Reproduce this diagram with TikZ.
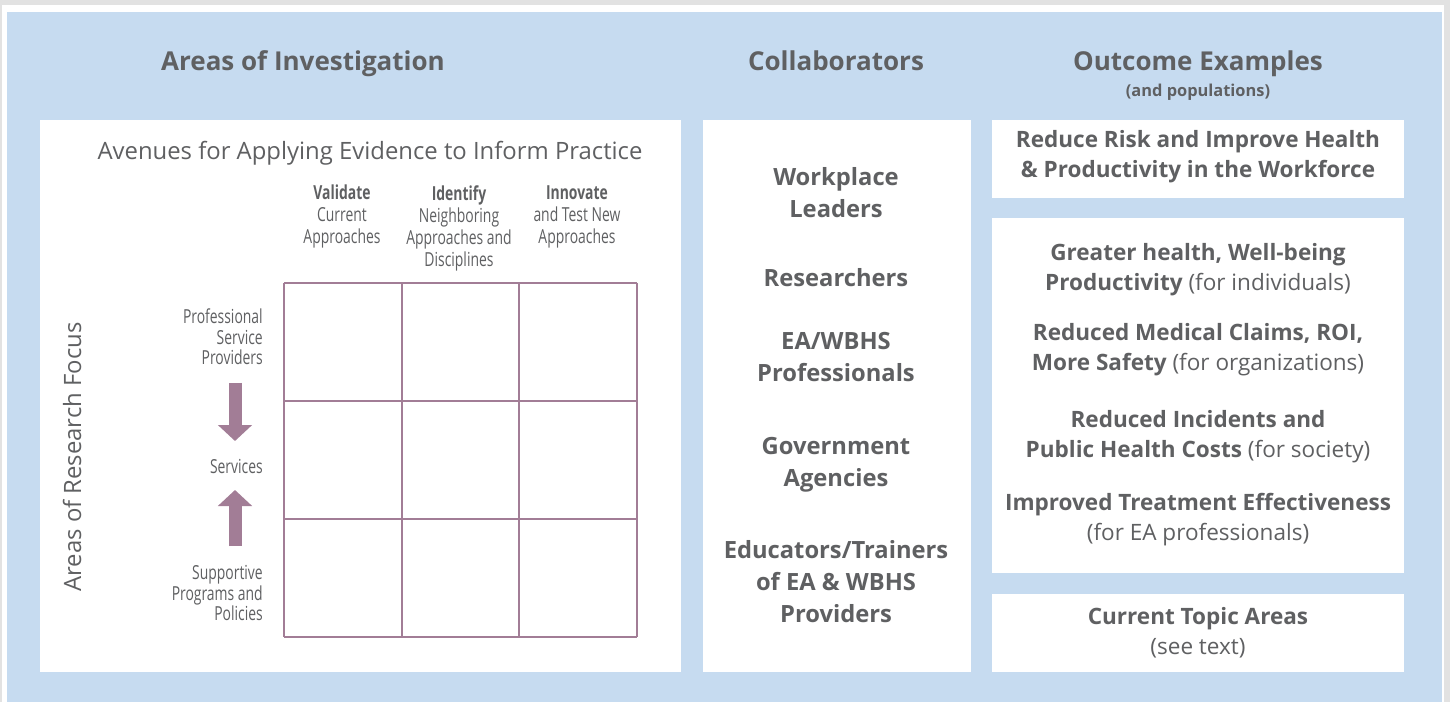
\documentclass[tikz,border=0pt]{standalone}
\usepackage{fontspec}
\setmainfont{Open Sans}
\newfontfamily\condfont[FakeStretch=0.72]{Open Sans}
\usetikzlibrary{positioning,arrows.meta}
\definecolor{bgblue}{HTML}{C6DBF0}
\definecolor{txtgray}{HTML}{5F6062}
\definecolor{gridpurple}{HTML}{A27D96}
\definecolor{shadowgray}{HTML}{E2E2E2}
\tikzset{
	every node/.style={text=txtgray, inner sep=0pt},
	head/.style = {font=\bfseries\fontsize{19.5}{22}\selectfont, anchor=base},
	subhead/.style = {font=\bfseries\fontsize{12.3}{14}\selectfont},
	title/.style = {font=\fontsize{17.9}{21}\selectfont},
	collab/.style = {font=\bfseries\fontsize{17.8}{24}\selectfont, align=center},
	outcome/.style = {font=\fontsize{16.9}{22.5}\selectfont, align=center},
	colhead/.style = {font=\condfont\fontsize{14.5}{16.5}\selectfont, align=center, anchor=north},
	rowlab/.style = {font=\condfont\fontsize{14.5}{15.4}\selectfont, align=right, anchor=east},
	gridline/.style = {draw=gridpurple, line width=1.5pt},
	bigarrow/.style = {draw=gridpurple, line width=9.75pt, -{Triangle[width=25pt,length=12pt]}}
}

\begin{document}
\begin{tikzpicture}[x=0.75pt,y=-0.75pt]
	\useasboundingbox (0,0) rectangle (1450,702);
	% frame and background
	\fill[shadowgray] (0,0) rectangle (1450,702);
	\fill[white] (2,5) rectangle (1444,702);
	\fill[bgblue] (7,12) rectangle (1442,702);
	% white panels
	\fill[white] (40,120) rectangle (681,672);
	\fill[white] (703,120) rectangle (971,672);
	\fill[white] (992,120) rectangle (1404,198);
	\fill[white] (992,218) rectangle (1404,573);
	\fill[white] (992,594) rectangle (1404,672);
	
	% column headings
	\node[head] (areas) at (303,71) {Areas of Investigation};
	\node[head] (collabs) at (836,71) {Collaborators};
	\node[head] (outex) at (1198,71) {Outcome Examples};
	\node[subhead] (popul) at (1198,92) {(and populations)};
	
	% left panel: avenues and research focus
	\node[title] (avenues) at (370,153) {Avenues for Applying Evidence to Inform Practice};
	\node[colhead] (validate) at (342,185) {\bfseries Validate\\Current\\Approaches};
	\node[colhead] (identify) at (459,185) {\bfseries Identify\\Neighboring\\Approaches and\\Disciplines};
	\node[colhead] (innovate) at (577,185) {\bfseries Innovate\\and Test New\\Approaches};
	\node[title, rotate=90] (focus) at (72,457) {Areas of Research Focus};
	\node[rowlab] (provid) at (263,337) {Professional\\Service\\Providers};
	\node[rowlab] (services) at (263,466) {Services};
	\node[rowlab] (support) at (263,593) {Supportive\\Programs and\\Policies};
	\coordinate (dtop) at (235,383);
	\coordinate (dtip) at (235,441);
	\coordinate (ubot) at (235,546);
	\coordinate (utip) at (235,490);
	\draw[bigarrow] (dtop) -- (dtip);
	\draw[bigarrow] (ubot) -- (utip);
	% 3x3 grid
	\foreach \k in {0,1,2,3} {
		\draw[gridline] ({284+117.7*\k},283) -- ({284+117.7*\k},637);
		\draw[gridline] (284,{283+118*\k}) -- (637,{283+118*\k});
	}
	
	% middle panel: collaborators
	\node[collab] (leaders) at (836,193) {Workplace\\Leaders};
	\node[collab] (research) at (836,278) {Researchers};
	\node[collab] (profs) at (836,357) {EA/WBHS\\Professionals};
	\node[collab] (govt) at (836,465) {Government\\Agencies};
	\node[collab] (educ) at (836,582) {Educators/Trainers\\of EA \& WBHS\\Providers};
	
	% right panel: outcomes
	\node[outcome] (workforce) at (1198,157) {\bfseries Reduce Risk and Improve Health\\\bfseries \& Productivity in the Workforce};
	\node[outcome] (indiv) at (1198,270) {\textbf{Greater health, Well-being}\\\textbf{Productivity} (for individuals)};
	\node[outcome] (organ) at (1198,350) {\textbf{Reduced Medical Claims, ROI,}\\\textbf{More Safety} (for organizations)};
	\node[outcome] (society) at (1198,437) {\textbf{Reduced Incidents and}\\\textbf{Public Health Costs} (for society)};
	\node[outcome] (eaprof) at (1198,520) {\textbf{Improved Treatment Effectiveness}\\(for EA professionals)};
	\node[outcome] (topics) at (1198,633) {\textbf{Current Topic Areas}\\(see text)};
\end{tikzpicture}
\end{document}
